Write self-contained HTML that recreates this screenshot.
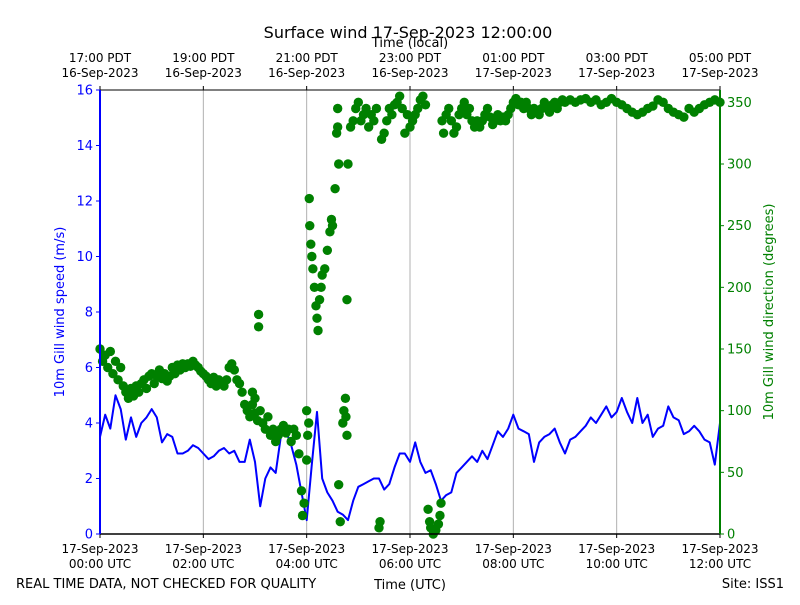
<!DOCTYPE html>
<html><head><meta charset="utf-8">
<style>
body{margin:0;background:#fff;}
svg text{font-family:"DejaVu Sans","Liberation Sans",sans-serif;}
</style></head>
<body>
<svg id="chart" width="800" height="600" viewBox="0 0 800 600" xmlns="http://www.w3.org/2000/svg">
<rect width="800" height="600" fill="#fff"/>
<text x="408" y="38" font-size="16" text-anchor="middle">Surface wind 17-Sep-2023 12:00:00</text>
<text x="410" y="47" font-size="13" text-anchor="middle">Time (local)</text>
<text x="410" y="589" font-size="13" text-anchor="middle">Time (UTC)</text>
<text x="16" y="588" font-size="13">REAL TIME DATA, NOT CHECKED FOR QUALITY</text>
<text x="784" y="588" font-size="13" text-anchor="end">Site: ISS1</text>
<text transform="translate(64,312) rotate(-90)" font-size="13" fill="#0000ff" text-anchor="middle">10m Gill wind speed (m/s)</text>
<text transform="translate(773,312) rotate(-90)" font-size="13" fill="#008000" text-anchor="middle">10m Gill wind direction (degrees)</text>
<g id="grid"></g>
<g id="speed"></g>
<g id="dir"></g>
<g id="axes"></g>
</svg>
<script>
const speedT0 = 0, speedStep = 0.1;
const speedValues = [3.5,4.3,3.8,5.0,4.5,3.4,4.2,3.5,4.0,4.2,4.5,4.2,3.3,3.6,3.5,2.9,2.9,3.0,3.2,3.1,2.9,2.7,2.8,3.0,3.1,2.9,3.0,2.6,2.6,3.4,2.6,1.0,2.0,2.4,2.2,3.5,3.7,3.2,2.5,1.5,0.5,2.5,4.4,2.0,1.5,1.2,0.8,0.7,0.5,1.2,1.7,1.8,1.9,2.0,2.0,1.6,1.8,2.4,2.9,2.9,2.6,3.3,2.6,2.2,2.3,1.8,1.2,1.4,1.5,2.2,2.4,2.6,2.8,2.6,3.0,2.7,3.2,3.7,3.5,3.8,4.3,3.8,3.7,3.6,2.6,3.3,3.5,3.6,3.8,3.3,2.9,3.4,3.5,3.7,3.9,4.2,4.0,4.3,4.6,4.2,4.4,4.9,4.4,4.0,4.9,4.0,4.3,3.5,3.8,3.9,4.6,4.2,4.1,3.6,3.7,3.9,3.7,3.4,3.3,2.5,4.0];
const dirTimes = [0,0.05,0.1,0.15,0.2,0.25,0.3,0.35,0.4,0.45,0.5,0.55,0.6,0.65,0.7,0.75,0.8,0.85,0.9,0.95,1,1.05,1.1,1.15,1.2,1.25,1.3,1.35,1.4,1.45,1.5,1.55,1.6,1.65,1.7,1.75,1.8,1.85,1.9,1.95,2,2.05,2.1,2.15,2.2,2.25,2.3,2.35,2.4,2.45,2.5,2.55,2.6,2.65,2.7,2.75,2.8,2.85,2.9,2.95,3,3.05,3.1,3.15,3.2,3.25,3.3,3.35,3.4,3.45,3.5,3.55,3.6,3.65,3.7,3.75,3.8,3.85,3.9,3.92,3.95,4,4.02,4.04,4.06,4.08,4.1,4.12,4.15,4.18,4.2,4.22,4.25,4.28,4.3,4.35,4.4,4.45,4.48,4.5,4.55,4.58,4.6,4.62,4.65,4.7,4.72,4.75,4.78,4.8,4.85,4.9,4.95,5,5.05,5.1,5.15,5.2,5.25,5.3,5.35,5.4,5.42,5.45,5.5,5.55,5.6,5.65,5.7,5.75,5.8,5.85,5.9,5.95,6,6.05,6.1,6.15,6.2,6.25,6.3,6.35,6.38,6.4,6.45,6.5,6.55,6.58,6.6,6.62,6.65,6.7,6.75,6.8,6.85,6.9,6.95,7,7.05,7.1,7.15,7.2,7.25,7.3,7.35,7.4,7.45,7.5,7.55,7.6,7.65,7.7,7.75,7.8,7.85,7.9,7.95,8,8.05,8.1,8.15,8.2,8.25,8.3,8.35,8.4,8.45,8.5,8.55,8.6,8.65,8.7,8.75,8.8,8.85,8.9,8.95,9,9.1,9.2,9.3,9.4,9.5,9.6,9.7,9.8,9.9,10,10.1,10.2,10.3,10.4,10.5,10.6,10.7,10.8,10.9,11,11.1,11.2,11.3,11.4,11.5,11.6,11.7,11.8,11.9,12,3.07,3.07,2.95,3.0,4.05,4.0,4.76,4.78,4.6,4.62];
const dirValues = [150,140,145,135,148,130,140,125,135,120,115,110,118,112,120,115,122,125,118,128,130,122,128,133,126,130,124,128,135,130,137,133,138,135,138,136,140,137,135,132,130,128,125,122,127,120,125,123,120,125,135,138,133,125,122,115,105,100,95,105,98,92,100,90,85,95,80,85,75,80,85,88,82,85,75,85,80,65,35,15,25,60,80,90,250,235,225,215,200,185,175,165,190,200,210,215,230,245,255,250,280,325,345,40,10,90,100,110,190,300,330,335,345,350,335,340,345,330,340,335,345,5,10,320,325,335,345,340,348,350,355,345,325,340,330,335,340,345,352,355,348,20,10,5,0,3,8,15,25,335,325,340,345,335,325,330,340,345,350,340,345,335,330,335,330,335,340,345,338,332,335,340,335,338,335,340,345,350,353,348,350,345,350,345,340,345,342,340,345,350,345,342,348,350,345,350,352,350,352,350,352,353,350,352,348,350,353,350,348,345,342,340,342,345,347,352,350,345,342,340,338,345,342,345,348,350,352,350,178,168,115,110,272,100,95,80,330,300];
const bottomTicks = ["17-Sep-2023|00:00 UTC","17-Sep-2023|02:00 UTC","17-Sep-2023|04:00 UTC","17-Sep-2023|06:00 UTC","17-Sep-2023|08:00 UTC","17-Sep-2023|10:00 UTC","17-Sep-2023|12:00 UTC"];
const topTicks = ["17:00 PDT|16-Sep-2023","19:00 PDT|16-Sep-2023","21:00 PDT|16-Sep-2023","23:00 PDT|16-Sep-2023","01:00 PDT|17-Sep-2023","03:00 PDT|17-Sep-2023","05:00 PDT|17-Sep-2023"];
const tickHours = [0,2,4,6,8,10,12];
const leftTicks = [0,2,4,6,8,10,12,14,16];
const rightTicks = [0,50,100,150,200,250,300,350];

const NS="http://www.w3.org/2000/svg";
const L=100,R=720,T=90,B=534;
const xs=h=>L+(R-L)*h/12;
const ysL=v=>B-(B-T)*v/16;
const ysR=d=>B-(B-T)*d/360;
function mk(tag,attrs,parent,txt){const e=document.createElementNS(NS,tag);for(const k in attrs)e.setAttribute(k,attrs[k]);if(txt!==undefined)e.textContent=txt;document.getElementById(parent).appendChild(e);return e;}

tickHours.forEach((h,i)=>{
  const g=mk('line',{x1:xs(h),x2:xs(h),y1:T,y2:B,stroke:'#b0b0b0','stroke-width':1},'grid');
  
  
  mk('line',{x1:xs(h),x2:xs(h),y1:B,y2:B+4,stroke:'#000'},'axes');
  mk('line',{x1:xs(h),x2:xs(h),y1:T,y2:T-4,stroke:'#000'},'axes');
  const b=bottomTicks[i].split('|');
  const tb=mk('text',{x:xs(h),y:553,'font-size':12,'text-anchor':'middle'},'axes',b[0]);
  
  
  mk('text',{x:xs(h),y:568,'font-size':12,'text-anchor':'middle'},'axes',b[1]);
  const t=topTicks[i].split('|');
  const tt=mk('text',{x:xs(h),y:62,'font-size':12,'text-anchor':'middle'},'axes',t[0]);
  
  
  mk('text',{x:xs(h),y:77,'font-size':12,'text-anchor':'middle'},'axes',t[1]);
});
leftTicks.forEach(v=>{
  mk('line',{x1:L-4,x2:L,y1:ysL(v),y2:ysL(v),stroke:'#0000ff'},'axes');
  const t=mk('text',{x:L-7,y:ysL(v)+4.5,'font-size':13,'text-anchor':'end',fill:'#0000ff'},'axes',String(v));
  
  
});
rightTicks.forEach(v=>{
  mk('line',{x1:R,x2:R+4,y1:ysR(v),y2:ysR(v),stroke:'#008000'},'axes');
  const t=mk('text',{x:R+7,y:ysR(v)+4.5,'font-size':13,fill:'#008000'},'axes',String(v));
  
  
});
mk('line',{x1:L,x2:R,y1:T,y2:T,stroke:'#000','stroke-width':1},'axes');
mk('line',{x1:L,x2:R,y1:B,y2:B,stroke:'#000','stroke-width':1.5},'axes');
const ls=mk('line',{x1:L,x2:L,y1:T,y2:B,stroke:'#0000ff','stroke-width':2},'axes');


const rs=mk('line',{x1:R,x2:R,y1:T,y2:B,stroke:'#008000','stroke-width':2},'axes');



const pts=speedValues.map((v,i)=>xs(speedT0+i*speedStep).toFixed(1)+','+ysL(v).toFixed(1)).join(' ');
const pl=mk('polyline',{points:pts,fill:'none',stroke:'#0000ff','stroke-width':2,'stroke-linejoin':'round'},'speed');



dirTimes.forEach((h,i)=>{
  const c=mk('circle',{cx:xs(h),cy:ysR(dirValues[i]),r:4.7,fill:'#008000'},'dir');
  
  
});
</script>
</body></html>
